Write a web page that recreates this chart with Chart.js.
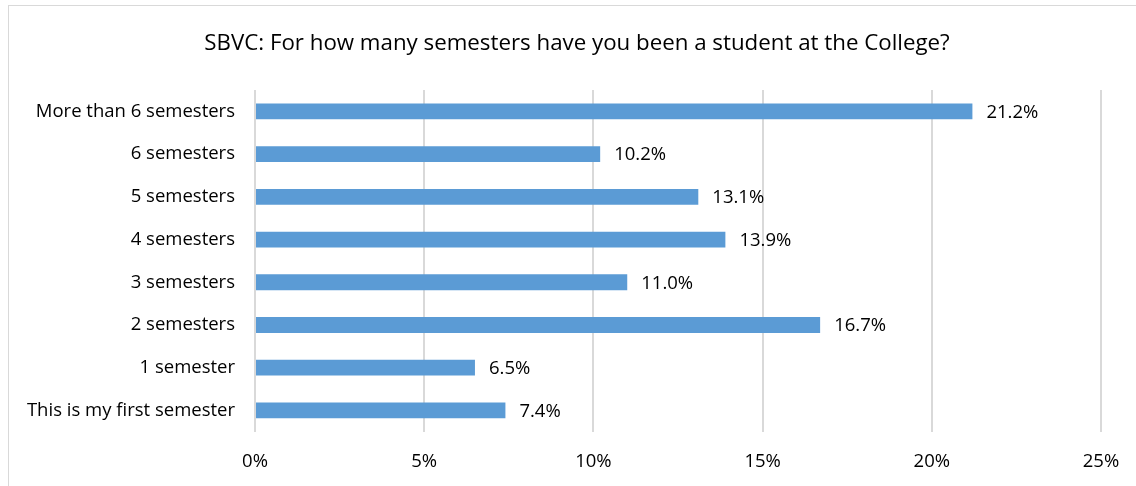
<!DOCTYPE html>
<html>
<head>
<meta charset="utf-8">
<script src="https://cdn.jsdelivr.net/npm/chart.js@4"></script>
<style>
  html, body { margin: 0; padding: 0; background: #fff; overflow: hidden; }
  #frame {
    position: absolute; left: 8px; top: 5px;
    width: 1136px; height: 486px;
    border: 1px solid #d9d9d9; box-sizing: border-box;
  }
  #frame canvas { position: absolute; left: 0; top: 0; }
</style>
</head>
<body>
<div id="frame"><canvas id="chart" width="1136" height="486"></canvas></div>
<script>
// ============================================================
// Data
// ============================================================

const categories = [
  'More than 6 semesters',
  '6 semesters',
  '5 semesters',
  '4 semesters',
  '3 semesters',
  '2 semesters',
  '1 semester',
  'This is my first semester'
];
const percents = [21.2, 10.2, 13.1, 13.9, 11.0, 16.7, 6.5, 7.4];
const tickValues = [0, 5, 10, 15, 20, 25];
const chartTitle = 'SBVC: For how many semesters have you been a student at the College?';

const FONT = '"Open Sans", Lato, sans-serif';

// title centred on the whole frame (built-in title centres on the padded box)
const frameTitle = {
  id: 'frameTitle',
  afterDraw(chart) {
    const ctx = chart.ctx;
    ctx.save();
    ctx.font = '22.3px ' + FONT;
    ctx.fillStyle = '#000';
    ctx.textAlign = 'center';
    ctx.textBaseline = 'middle';
    ctx.fillText(chartTitle, chart.width / 2, 38);
    ctx.restore();
  }
};

// value labels after each bar end
const valueLabels = {
  id: 'valueLabels',
  afterDatasetsDraw(chart) {
    const ctx = chart.ctx;
    const meta = chart.getDatasetMeta(0);
    ctx.save();
    ctx.font = '18.5px ' + FONT;
    ctx.fillStyle = '#000';
    ctx.textAlign = 'left';
    ctx.textBaseline = 'middle';
    meta.data.forEach((bar, i) => {
      ctx.fillText(percents[i].toFixed(1) + '%', bar.x + 14, bar.y + 1);
    });
    ctx.restore();
  }
};

const ctx = document.getElementById('chart').getContext('2d');
new Chart(ctx, {
  type: 'bar',
  data: {
    labels: categories,
    datasets: [{
      data: percents,
      backgroundColor: '#5b9bd5',
      borderWidth: 0,
      barPercentage: 1,
      categoryPercentage: 0.37
    }]
  },
  options: {
    indexAxis: 'y',
    responsive: false,
    animation: false,
    layout: { padding: { left: 0, right: 44, top: 84, bottom: 0 } },
    plugins: {
      legend: { display: false },
      tooltip: { enabled: false },
      title: { display: false }
    },
    scales: {
      x: {
        min: 0,
        max: 25,
        afterBuildTicks: (scale) => { scale.ticks = tickValues.map(v => ({ value: v })); },
        ticks: {
          color: '#000',
          font: { family: FONT, size: 18.5 },
          padding: 19,
          callback: (v) => v + '%'
        },
        grid: { color: '#d9d9d9', lineWidth: 2, drawTicks: false },
        border: { display: false }
      },
      y: {
        afterFit: (scale) => { scale.width = 246; },
        ticks: {
          color: '#000',
          font: { family: FONT, size: 18.5 },
          padding: 20
        },
        grid: { display: false, drawTicks: false },
        border: { display: false }
      }
    }
  },
  plugins: [valueLabels, frameTitle]
});
</script>
</body>
</html>
